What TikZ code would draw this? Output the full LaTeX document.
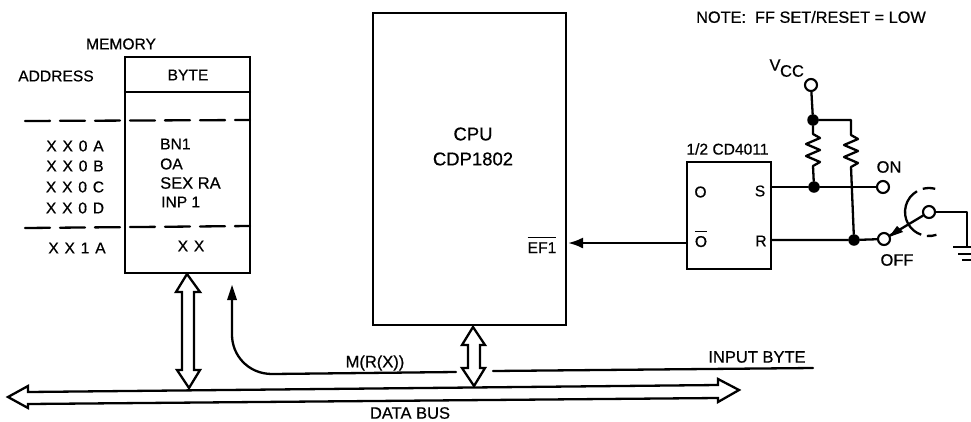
\documentclass[tikz,border=0pt]{standalone}
\usepackage{fontspec}
\setmainfont[FakeBold=0.6]{Liberation Sans}
\usetikzlibrary{arrows.meta}
\newcommand{\addrfont}{\fontsize{15.6}{18}\selectfont\spaceskip 5.8pt\relax}
\begin{document}
\begin{tikzpicture}[x=1pt,y=-1pt,
  wire/.style={line width=2.3pt,line cap=round,line join=round},
  boxnode/.style={draw,line width=2.5pt,rectangle,inner sep=0pt,outer sep=0pt,anchor=north west},
  lbl/.style={font=\fontsize{15.6}{18}\selectfont,inner sep=0pt,anchor=center},
  lblb/.style={lbl,font=\fontsize{16.5}{18}\selectfont},
  addr/.style={lbl,font=\addrfont},
  term/.style={draw,circle,line width=2.1pt,minimum size=12pt,inner sep=0pt,fill=white},
  dot/.style={circle,fill=black,minimum size=11.5pt,inner sep=0pt},
  bus/.style={draw,line width=2.3pt,line join=miter,fill=white}]
\useasboundingbox (0,0) rectangle (971,421);
% Memory
\node[boxnode,minimum width=125pt,minimum height=216pt] (mem) at (125,57) {};
\coordinate (hl) at (125,92); \coordinate (hr) at (250,92);
\draw[wire] (hl) -- (hr);
\coordinate (d1l) at (25,121); \coordinate (d1r) at (250,120);
\coordinate (d2l) at (25,228); \coordinate (d2r) at (250,226);
\draw[wire,dash pattern=on 25pt off 10pt] (d1l) -- (d1r);
\draw[wire,dash pattern=on 25pt off 10pt] (d2l) -- (d2r);
\node[lbl] (tmem) at (121,44) {MEMORY};
\node[lbl] (taddr) at (56,76) {ADDRESS};
\node[lbl] (tbyte) at (188,75) {BYTE};
\node[addr] (a1) at (75,146) {X X 0 A};
\node[addr] (a2) at (75,166) {X X 0 B};
\node[addr] (a3) at (75,187) {X X 0 C};
\node[addr] (a4) at (75,208) {X X 0 D};
\node[addr] (a5) at (77,248) {X X 1 A};
\node[lbl,anchor=west] (b1) at (160,144) {BN1};
\node[lbl,anchor=west] (b2) at (160,164) {OA};
\node[lblb,anchor=west] (b3) at (160,183) {SEX RA};
\node[lbl,anchor=west] (b4) at (161,202) {INP 1};
\node[addr] (b5) at (191,246) {X X};
% CPU
\node[boxnode,minimum width=193pt,minimum height=312pt] (cpu) at (373,13) {};
\node[lbl,font=\fontsize{18.5}{20}\selectfont] (t1) at (473,134) {CPU};
\node[lbl,font=\fontsize{18.5}{20}\selectfont] (t2) at (473,159) {CDP1802};
\node[lbl] (ef) at (542,245) {$\overline{\rule{0pt}{14pt}\hbox{EF1}}$};
% Flip-flop
\node[boxnode,minimum width=84pt,minimum height=107pt] (ff) at (687,162) {};
\node[lbl] (tcd) at (727.5,149) {1/2 CD4011};
\node[lbl] (qq) at (700.5,192) {O};
\node[lbl] (qb) at (701,239) {$\overline{\rule{0pt}{14pt}\hbox{O}}$};
\node[lbl] (ts) at (760,191) {S};
\node[lbl] (tr) at (761,241) {R};
\coordinate (qin) at (687,243);
\coordinate (efin) at (568,243);
\draw[wire,-{Latex[length=15pt,width=11pt]}] (qin) -- (efin);
% Terminals
\node[term] (vcc) at (811,85) {};
\node[term] (on) at (883,187) {};
\node[term] (off) at (884,239) {};
\node[term] (sw) at (929,212) {};
\node[dot] (n1) at (813,120) {};
\node[dot] (n2) at (814,187) {};
\node[dot] (n3) at (854,240) {};
\coordinate (sin) at (771,187);
\coordinate (rin) at (771,240);
\coordinate (corner) at (851,120);
\draw[wire] (vcc) -- (n1);
\draw[wire] (n1) -- (corner) -- (851,135)
  -- ++(7,4) -- ++(-14,6) -- ++(14,6) -- ++(-14,6) -- ++(14,6) -- ++(-7,4) -- (n3);
\draw[wire] (n1) -- (813,134)
  -- ++(7,4) -- ++(-14,6) -- ++(14,6) -- ++(-14,6) -- ++(14,6) -- ++(-7,4) -- (n2);
\draw[wire] (sin) -- (n2) -- (on);
\draw[wire] (rin) -- (n3) -- (off);
\node[lblb] (ton) at (889,167) {ON};
\node[lblb] (toff) at (897,260) {OFF};
\node[lblb] (vv) at (775,65) {V};
\node[lblb] (vc) at (792,71) {CC};
\node[lbl,font=\fontsize{16.3}{18}\selectfont] (note) at (811,17) {NOTE:\ \ FF SET/RESET = LOW};
% Switch
\draw[wire] (off) -- (sw);
\fill (889,237) -- (897,226) -- (903,232) -- cycle;
\draw[wire,line cap=butt] (sw.center) ++(-75:24) arc[start angle=-75,end angle=-105,radius=24];
\draw[wire,line cap=butt] (sw.center) ++(-120:24) arc[start angle=-120,end angle=-251,radius=24];
\draw[wire,line cap=butt] (sw.center) ++(95:24) arc[start angle=95,end angle=72,radius=24];
\coordinate (gt) at (967,212);
\coordinate (gb) at (967,247);
\draw[wire,line cap=butt] (sw) -- (gt) -- (gb);
\coordinate (g1) at (953,247); \coordinate (g1r) at (971,247);
\coordinate (g2) at (958,254); \coordinate (g2r) at (971,254);
\coordinate (g3) at (962,260); \coordinate (g3r) at (971,260);
\draw[wire,line cap=butt] (g1) -- (g1r);
\draw[wire,line cap=butt] (g2) -- (g2r);
\draw[wire,line cap=butt] (g3) -- (g3r);
% Data path
\coordinate (marrow) at (232,285);
\coordinate (minleft) at (272,374);
\coordinate (mright) at (456,372);
\coordinate (inl) at (493,371);
\coordinate (inr) at (813,368);
\draw[wire] (232,298) -- (232,335) .. controls (232,355) and (248,374) .. (minleft) -- (mright);
\draw[fill=black,draw=none] (marrow) -- (237,300) -- (227,300) -- cycle;
\draw[wire] (inl) -- (inr);
\node[lblb] (tm) at (375,363) {M(R(X))};
\node[lblb] (tin) at (757,357) {INPUT BYTE};
\node[lblb] (tdb) at (410,413) {DATA BUS};
% Data bus
\draw[bus] (8,397) -- (28,386) -- (28,392) -- (718,385) -- (718,379) -- (739,390) -- (718,402) -- (718,398) -- (28,404) -- (28,408) -- cycle;
% Double arrows
\draw[bus] (187,274) -- (200,292) -- (194,292) -- (194,370) -- (200,370) -- (189,388) -- (177,370) -- (182,370) -- (182,292) -- (176,292) -- cycle;
\draw[bus] (473,327) -- (485,345) -- (480,345) -- (480,368) -- (485,368) -- (474,386) -- (462,368) -- (468,368) -- (468,345) -- (462,345) -- cycle;
\end{tikzpicture}
\end{document}
